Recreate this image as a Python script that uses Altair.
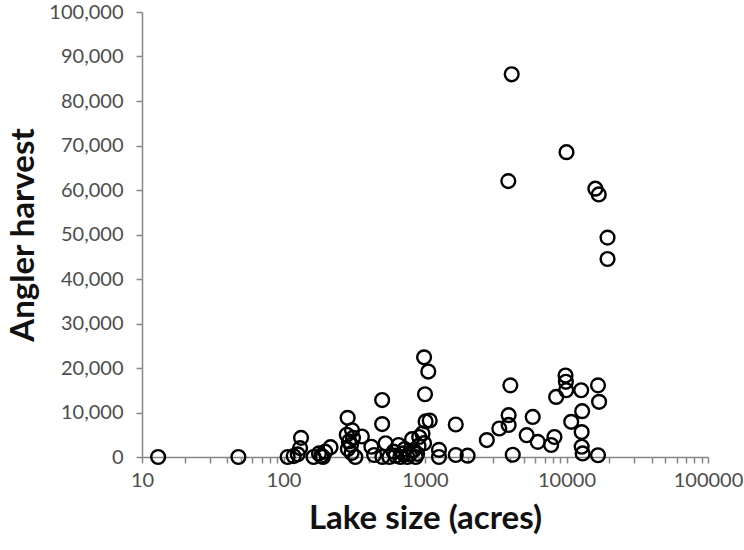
import altair as alt
import pandas as pd

# Lake surface area (acres) and angler harvest for each surveyed lake
lake_acres = [
    13, 48,
    107, 118, 126, 133, 131,
    163, 178, 185, 190, 197, 215,
    284, 280, 290, 300, 310, 285, 322, 303, 305, 358,
    418, 437, 498, 498, 527, 500,
    560, 600, 620, 650, 670, 700, 720, 750, 780, 810, 830, 860, 880, 900,
    985, 1055, 1000, 1010, 1080, 960, 985, 910, 1255, 1255, 1650, 1650, 2000,
    2735, 3350, 3900, 3900, 4010, 4170, 5230, 5770, 6260, 7790, 8220, 8450,
    9840, 9900, 9950, 10800, 12700, 12900, 12800, 12800, 13000,
    16700, 17000, 16700,
    4100, 10000, 3880, 16000, 16900, 19500, 19500,
]
angler_harvest = [
    0, 0,
    0, 200, 600, 4300, 2000,
    0, 800, 300, 0, 1200, 2200,
    8800, 5000, 3500, 2700, 4300, 1800, 0, 900, 6000, 4600,
    2300, 450, 12800, 7400, 3080, 0,
    0, 1200, 300, 2700, 0, 800, 1800, 0, 600, 4000, 1500, 0, 700, 2500,
    22400, 19200, 14100, 8000, 8200, 5300, 3100, 4500, 1600, 0, 7300, 450, 300,
    3800, 6400, 9400, 7200, 16100, 500, 4900, 9000, 3400, 2700, 4500, 13500,
    18300, 16900, 15000, 7900, 15000, 10300, 5600, 2300, 800,
    16100, 12400, 400,
    86000, 68500, 62000, 60300, 59000, 49300, 44500,
]

# Axis tick positions
x_ticks = [m * 10 ** e for e in range(1, 5) for m in range(1, 10)] + [100000]
x_labels = ["10", "100", "1000", "10000", "100000"]
y_ticks = list(range(0, 100001, 10000))

df = pd.DataFrame({"acres": lake_acres, "harvest": angler_harvest})

label_list = "[" + ",".join(f"'{v}'" for v in x_labels) + "]"

chart = (
    alt.Chart(df)
    .mark_point(filled=False, color="black", size=190, strokeWidth=2.4, opacity=1)
    .encode(
        x=alt.X(
            "acres:Q",
            scale=alt.Scale(type="log", domain=[10, 100000], nice=False),
            axis=alt.Axis(
                values=x_ticks,
                format="d",
                labelExpr=f"indexof({label_list}, datum.label) >= 0 ? datum.label : ''",
                title="Lake size (acres)",
                grid=False,
                tickSize=6,
                labelPadding=7,
                titlePadding=12,
                labelFlush=False,
                labelOverlap=False,
            ),
        ),
        y=alt.Y(
            "harvest:Q",
            scale=alt.Scale(domain=[0, 100000], nice=False),
            axis=alt.Axis(
                values=y_ticks,
                format=",d",
                title="Angler harvest",
                grid=False,
                tickSize=6,
                labelPadding=13,
                titlePadding=8,
            ),
        ),
    )
    .properties(
        width=566,
        height=445,
        autosize=alt.AutoSizeParams(type="none"),
        padding={"left": 142, "top": 12, "right": 36, "bottom": 93},
    )
    .configure_view(stroke=None)
    .configure_axis(
        domainColor="#868686",
        domainWidth=1.5,
        tickColor="#868686",
        tickWidth=1.5,
        labelColor="#4d4d4d",
        labelFont="Lato",
        labelFontSize=20,
        titleFont="Lato",
        titleFontSize=33,
        titleFontWeight="bold",
        titleColor="#111111",
    )
)

chart.save("out.html", embed_options={"renderer": "svg", "actions": False})
